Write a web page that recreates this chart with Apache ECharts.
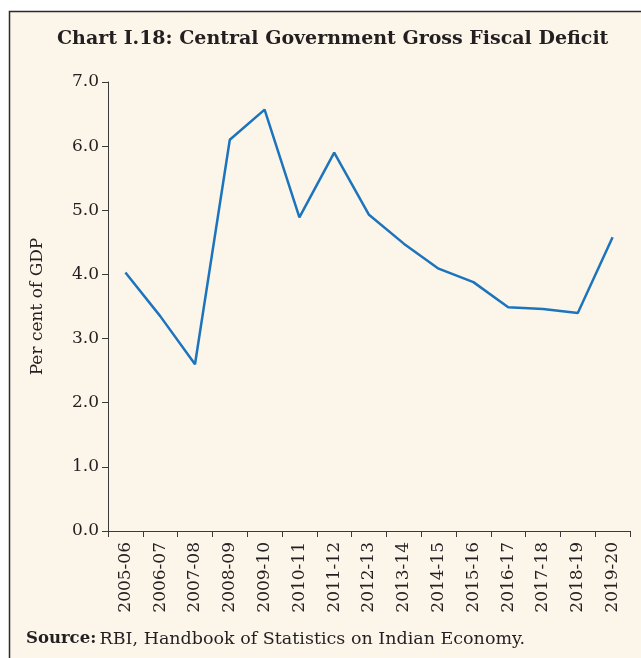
<!DOCTYPE html>
<html>
<head>
<meta charset="utf-8">
<script src="https://cdn.jsdelivr.net/npm/echarts@6/dist/echarts.min.js"></script>
<style>
  html, body { margin: 0; padding: 0; background: #fff; }
  #chart { width: 641px; height: 658px; }
</style>
</head>
<body>
<div id="chart"></div>
<script>
// 财年
var years = ['2005-06', '2006-07', '2007-08', '2008-09', '2009-10', '2010-11', '2011-12',
  '2012-13', '2013-14', '2014-15', '2015-16', '2016-17', '2017-18', '2018-19', '2019-20']
// 财政赤字占GDP比例 (%)
var deficit = [4.03, 3.35, 2.6, 6.1, 6.57, 4.89, 5.9, 4.93, 4.48, 4.09, 3.88, 3.49, 3.46, 3.4, 4.58]
var yTicks = [0, 1, 2, 3, 4, 5, 6, 7]

var myChart = echarts.init(document.getElementById('chart'))
var option = {
  backgroundColor: '#ffffff',
  animation: false,
  graphic: [
    {
      type: 'rect',
      shape: { x: 9, y: 11, width: 640, height: 660 },
      style: { fill: '#fbf5ea', stroke: null },
      z: -10
    },
    {
      type: 'polyline',
      shape: { points: [[9.5, 660], [9.5, 11.5], [641, 11.5]] },
      style: { stroke: '#2a2a2a', lineWidth: 1.5, fill: null }
    },
    {
      type: 'text',
      left: 57,
      top: 30,
      style: {
        text: 'Chart I.18: Central Government Gross Fiscal Deficit',
        font: 'bold 19px "DejaVu Serif"',
        fill: '#231f20'
      }
    },
    {
      type: 'text',
      left: 26,
      top: 630,
      style: {
        rich: {
          b: { font: 'bold 16.5px "DejaVu Serif"', fill: '#231f20' },
          n: { font: '17.5px "DejaVu Serif"', fill: '#231f20' }
        },
        text: '{b|Source:} {n|RBI, Handbook of Statistics on Indian Economy.}'
      }
    }
  ],
  grid: {
    left: 108,
    right: 11,
    top: 82,
    bottom: 127
  },
  xAxis: {
    type: 'category',
    data: years,
    boundaryGap: true,
    axisLine: { lineStyle: { color: '#3a3a3a', width: 1 } },
    axisTick: { show: true, length: 6, alignWithLabel: false, lineStyle: { color: '#3a3a3a' } },
    axisLabel: {
      rotate: 90,
      margin: 11,
      color: '#231f20',
      fontFamily: 'DejaVu Serif',
      fontSize: 17
    }
  },
  yAxis: {
    type: 'value',
    min: yTicks[0],
    max: yTicks[yTicks.length - 1],
    interval: 1,
    name: 'Per cent of GDP',
    nameLocation: 'middle',
    nameGap: 62,
    nameTextStyle: { fontFamily: 'DejaVu Serif', fontSize: 17, color: '#231f20' },
    splitLine: { show: false },
    axisLine: { show: true, lineStyle: { color: '#3a3a3a', width: 1 } },
    axisTick: { show: true, length: 6, lineStyle: { color: '#3a3a3a' } },
    axisLabel: {
      margin: 9,
      color: '#231f20',
      fontFamily: 'DejaVu Serif',
      fontSize: 17,
      formatter: function (v) { return v.toFixed(1) }
    }
  },
  series: [
    {
      type: 'line',
      data: deficit,
      symbol: 'none',
      lineStyle: { color: '#1c74bd', width: 2.5 }
    }
  ]
}
myChart.setOption(option)
</script>
</body>
</html>
